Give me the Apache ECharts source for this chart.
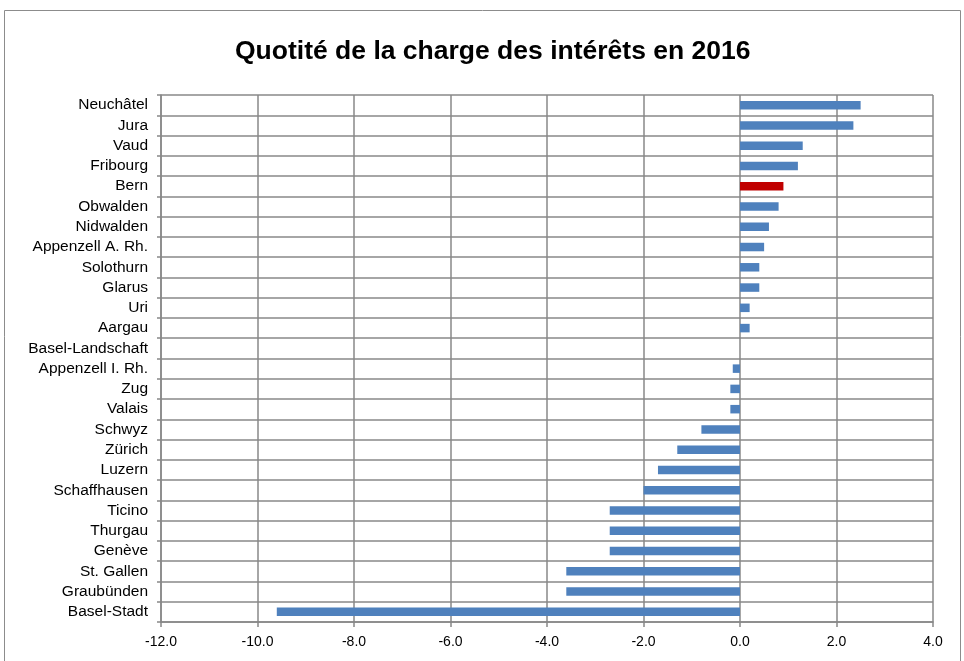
<!DOCTYPE html>
<html>
<head>
<meta charset="utf-8">
<title>Quotité de la charge des intérêts en 2016</title>
<script type="text/javascript" src="https://cdn.jsdelivr.net/npm/echarts@6/dist/echarts.min.js"></script>
<style>
  body { margin: 0; background: #fff; }
</style>
</head>
<body>
<div id="main" style="width: 964px; height: 661px;"></div>
<script type="text/javascript">
  // cantons, du haut vers le bas
  var cantons = ['Neuchâtel', 'Jura', 'Vaud', 'Fribourg', 'Bern', 'Obwalden', 'Nidwalden',
    'Appenzell A. Rh.', 'Solothurn', 'Glarus', 'Uri', 'Aargau', 'Basel-Landschaft',
    'Appenzell I. Rh.', 'Zug', 'Valais', 'Schwyz', 'Zürich', 'Luzern', 'Schaffhausen',
    'Ticino', 'Thurgau', 'Genève', 'St. Gallen', 'Graubünden', 'Basel-Stadt'];
  var quotite = [2.5, 2.35, 1.3, 1.2, 0.9, 0.8, 0.6, 0.5, 0.4, 0.4, 0.2, 0.2, 0,
    -0.15, -0.2, -0.2, -0.8, -1.3, -1.7, -2.0, -2.7, -2.7, -2.7, -3.6, -3.6, -9.6];
  var highlight = 'Bern';

  var myChart = echarts.init(document.getElementById('main'));

  var barData = quotite.map(function (v, i) {
    return {
      value: v,
      itemStyle: { color: cantons[i] === highlight ? '#C00000' : '#4F81BD' }
    };
  });

  var option = {
    animation: false,
    textStyle: { fontFamily: 'Liberation Sans, Arial, sans-serif' },
    title: {
      text: 'Quotité de la charge des intérêts en 2016',
      left: 230,
      top: 33,
      textStyle: { fontSize: 26.5, fontWeight: 'bold', color: '#000', fontFamily: 'Liberation Sans, Arial, sans-serif' }
    },
    graphic: [{
      type: 'rect',
      shape: { x: 4.5, y: 10.5, width: 956, height: 660 },
      style: { fill: 'none', stroke: '#8c8c8c', lineWidth: 1 }
    }],
    grid: { left: 161, right: 31, top: 95, bottom: 39 },
    xAxis: {
      type: 'value',
      min: -12,
      max: 4,
      interval: 2,
      axisLine: { show: true, onZero: false, lineStyle: { color: '#888', width: 1.5 } },
      axisTick: { show: true, length: 5, lineStyle: { color: '#888', width: 1.5 } },
      axisLabel: { color: '#000', fontSize: 14, margin: 13, formatter: function (v) { return v.toFixed(1); } },
      splitLine: { show: true, lineStyle: { color: '#888', width: 1.5 } }
    },
    yAxis: {
      type: 'category',
      data: cantons,
      inverse: true,
      axisLine: { show: true, onZero: false, lineStyle: { color: '#888', width: 1.5 } },
      axisTick: { show: true, interval: 0, length: 4, lineStyle: { color: '#888', width: 1.5 } },
      axisLabel: { color: '#000', fontSize: 15.5, margin: 13, interval: 0 },
      splitLine: { show: true, interval: 0, lineStyle: { color: '#888', width: 1.5 } }
    },
    series: [{
      type: 'bar',
      data: barData,
      barWidth: '42%'
    }]
  };

  myChart.setOption(option);
</script>
</body>
</html>
